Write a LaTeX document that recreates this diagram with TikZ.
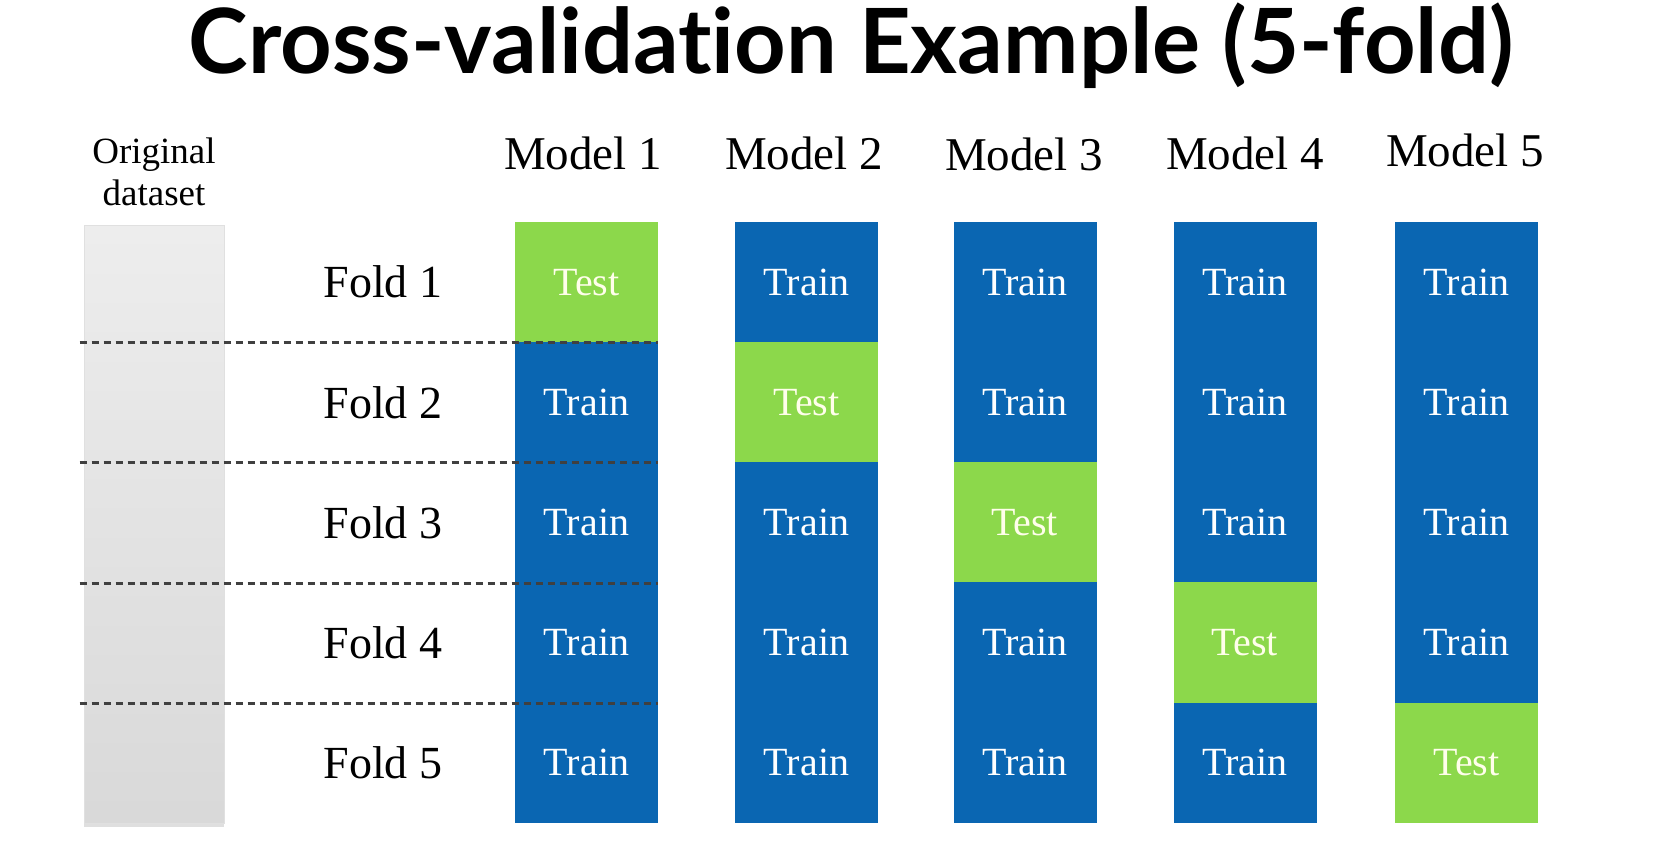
\documentclass[tikz,border=0pt]{standalone}
\usepackage{fontspec}
\setmainfont{Liberation Serif}
\newfontfamily\titlefont[Ligatures={NoCommon}]{Lato}
\usetikzlibrary{shadows}
\definecolor{trainblue}{HTML}{0A66B2}
\definecolor{testgreen}{HTML}{8CD84B}
\definecolor{dashgray}{HTML}{404040}
\tikzset{
  train/.style={fill=trainblue, text=white, minimum width=143pt, minimum height=120.6pt,
    inner sep=0pt, font=\fontsize{40}{48}\selectfont},
  test/.style={train, fill=testgreen, text=white!92!yellow},
  modellabel/.style={anchor=base, font=\fontsize{47}{56}\selectfont},
  foldlabel/.style={font=\fontsize{46}{55}\selectfont},
  foldline/.style={draw=dashgray, line width=3pt, dash pattern=on 7pt off 5pt},
}
\begin{document}
\begin{tikzpicture}[x=1pt,y=-1pt]
\useasboundingbox[fill=white] (0,0) rectangle (1660,856);
\node[anchor=base, font=\titlefont\bfseries\fontsize{90}{100}\selectfont] (title) at (851,74) {Cross-validation Example (5-fold)};
% original dataset
\node[anchor=base, align=center, font=\fontsize{37}{42}\selectfont] (origlabel) at (154,205) {Original\\dataset};
\node[minimum width=140pt, minimum height=598pt, inner sep=0pt, top color=black!7, bottom color=black!15,
  draw=black!12, line width=0.8pt, drop shadow={shadow xshift=0pt, shadow yshift=-4pt, opacity=0.25}] (orig) at (154,524) {};
% model headers
\node[modellabel] (model1) at (583,170) {Model 1};
\node[modellabel] (model2) at (804,170) {Model 2};
\node[modellabel] (model3) at (1024,171) {Model 3};
\node[modellabel] (model4) at (1245,170) {Model 4};
\node[modellabel] (model5) at (1465,167) {Model 5};
% fold names
\node[foldlabel] (fold1) at (383,282.1) {Fold 1};
\node[foldlabel] (fold2) at (383,402.3) {Fold 2};
\node[foldlabel] (fold3) at (383,522.5) {Fold 3};
\node[foldlabel] (fold4) at (383,642.7) {Fold 4};
\node[foldlabel] (fold5) at (383,762.9) {Fold 5};
% model 1
\node[test] (m1f1) at (586.5,282.1) {Test};
\node[train] (m1f2) at (586.5,402.3) {Train};
\node[train] (m1f3) at (586.5,522.5) {Train};
\node[train] (m1f4) at (586.5,642.7) {Train};
\node[train] (m1f5) at (586.5,762.9) {Train};
% model 2
\node[train] (m2f1) at (806.5,282.1) {Train};
\node[test] (m2f2) at (806.5,402.3) {Test};
\node[train] (m2f3) at (806.5,522.5) {Train};
\node[train] (m2f4) at (806.5,642.7) {Train};
\node[train] (m2f5) at (806.5,762.9) {Train};
% model 3
\node[train] (m3f1) at (1025,282.1) {Train};
\node[train] (m3f2) at (1025,402.3) {Train};
\node[test] (m3f3) at (1025,522.5) {Test};
\node[train] (m3f4) at (1025,642.7) {Train};
\node[train] (m3f5) at (1025,762.9) {Train};
% model 4
\node[train] (m4f1) at (1245,282.1) {Train};
\node[train] (m4f2) at (1245,402.3) {Train};
\node[train] (m4f3) at (1245,522.5) {Train};
\node[test] (m4f4) at (1245,642.7) {Test};
\node[train] (m4f5) at (1245,762.9) {Train};
% model 5
\node[train] (m5f1) at (1466.5,282.1) {Train};
\node[train] (m5f2) at (1466.5,402.3) {Train};
\node[train] (m5f3) at (1466.5,522.5) {Train};
\node[train] (m5f4) at (1466.5,642.7) {Train};
\node[test] (m5f5) at (1466.5,762.9) {Test};
% fold borders
\draw[foldline] ([xshift=-4pt]orig.west |- m1f1.south) -- (m1f1.south east);
\draw[foldline] ([xshift=-4pt]orig.west |- m1f2.south) -- (m1f2.south east);
\draw[foldline] ([xshift=-4pt]orig.west |- m1f3.south) -- (m1f3.south east);
\draw[foldline] ([xshift=-4pt]orig.west |- m1f4.south) -- (m1f4.south east);
\end{tikzpicture}
\end{document}
